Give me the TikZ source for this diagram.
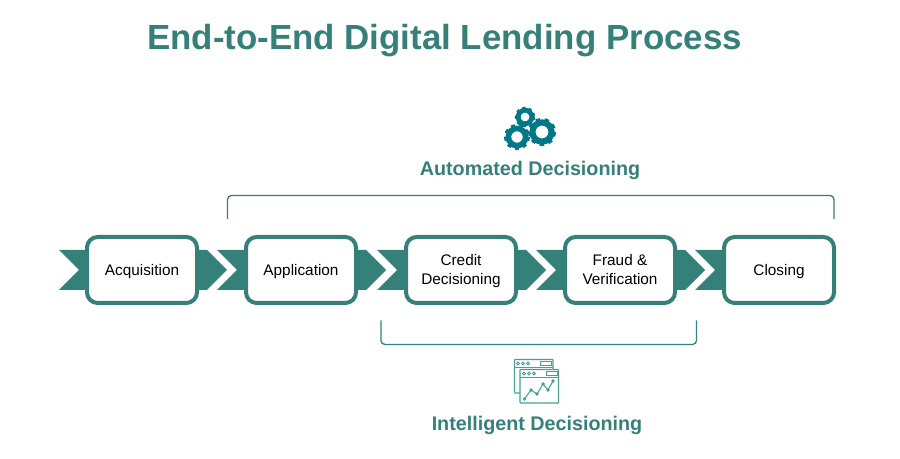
\documentclass[tikz,border=0pt]{standalone}
\usepackage{fontspec}
\setmainfont{Liberation Sans}
\definecolor{lendteal}{RGB}{53,128,120}
\definecolor{gearteal}{RGB}{0,120,136}
\definecolor{iconteal}{RGB}{70,160,150}
\tikzset{every picture/.style={line width=0.75pt}}
\tikzset{
	stepbox/.style={draw=lendteal, line width=3pt, fill=white, rounded corners=8pt, minimum width=82.5pt, minimum height=49.5pt, inner sep=0pt, align=center, font=\fontsize{11.5}{14.25}\selectfont},
	oneline/.style={text height=10.5pt, text depth=2.2pt},
	twoline/.style={text height=24pt, text depth=2.1pt},
	chevron/.style={fill=lendteal, draw=none},
	bracket/.style={draw=lendteal, line width=1pt, rounded corners=3pt},
	headline/.style={text=lendteal, font=\fontsize{14.8}{18}\selectfont\bfseries, inner sep=0pt},
	gear/.style={draw=gearteal},
	iconline/.style={draw=iconteal, line width=0.8pt},
	icondot/.style={draw=iconteal, line width=0.6pt}}

\begin{document}
\begin{tikzpicture}[x=0.75pt,y=0.75pt,yscale=-1]
	\useasboundingbox (0,0) rectangle (900,459);

	% Text Node
	\draw (444.5,41) node [text=lendteal, inner sep=0pt, font=\fontsize{26.15}{30}\selectfont\bfseries] (title) {End-to-End Digital Lending Process};
	% Text Node
	\draw (530,170) node [headline] (automated) {Automated Decisioning};
	% Text Node
	\draw (537,425) node [headline] (intelligent) {Intelligent Decisioning};

	% Text Node
	\draw (142,270) node [stepbox, oneline] (acquisition) {Acquisition};
	% Text Node
	\draw (301,270) node [stepbox, oneline] (application) {Application};
	% Text Node
	\draw (461,270) node [stepbox, twoline] (credit) {Credit\\Decisioning};
	% Text Node
	\draw (620,270) node [stepbox, twoline] (fraud) {Fraud \&\\Verification};
	% Text Node
	\draw (779,270) node [stepbox, oneline] (closing) {Closing};

	%Shape: Chevron tail
	\fill [chevron] (acquisition.west) ++(1,-20) -- ++(-27,0) -- ++(20,20) -- ++(-20,20) -- ++(27,0) -- cycle;
	\fill [chevron] (application.west) ++(1,-20) -- ++(-28,0) -- ++(20,20) -- ++(-20,20) -- ++(28,0) -- cycle;
	\fill [chevron] (credit.west) ++(1,-20) -- ++(-28,0) -- ++(20,20) -- ++(-20,20) -- ++(28,0) -- cycle;
	\fill [chevron] (fraud.west) ++(1,-20) -- ++(-28,0) -- ++(20,20) -- ++(-20,20) -- ++(28,0) -- cycle;
	\fill [chevron] (closing.west) ++(1,-20) -- ++(-28,0) -- ++(20,20) -- ++(-20,20) -- ++(28,0) -- cycle;
	%Shape: Chevron head
	\fill [chevron] (acquisition.east) ++(-1,-20) -- ++(9,0) -- ++(20,20) -- ++(-20,20) -- ++(-9,0) -- cycle;
	\fill [chevron] (application.east) ++(-1,-20) -- ++(9,0) -- ++(20,20) -- ++(-20,20) -- ++(-9,0) -- cycle;
	\fill [chevron] (credit.east) ++(-1,-20) -- ++(9,0) -- ++(20,20) -- ++(-20,20) -- ++(-9,0) -- cycle;
	\fill [chevron] (fraud.east) ++(-1,-20) -- ++(9,0) -- ++(20,20) -- ++(-20,20) -- ++(-9,0) -- cycle;

	%Straight Lines
	\coordinate (autoleft) at (227.5,219);
	\coordinate (autoright) at (834,219);
	\draw [bracket] (autoleft) -- (227.5,195.5) -- (834,195.5) -- (autoright);
	%Straight Lines
	\coordinate (intelleft) at (381,320.5);
	\coordinate (intelright) at (696.5,320.5);
	\draw [bracket] (intelleft) -- (381,344.5) -- (696.5,344.5) -- (intelright);

	%Shape: Gear
	\draw [gear, line width=3.6pt] (525,117) circle (6.8);
	\draw [gear, line width=2.2pt, dash pattern=on 2.4pt off 2.4pt] (525,117) circle (8.8);
	%Shape: Gear
	\draw [gear, line width=4.2pt] (517,137) circle (8.6);
	\draw [gear, line width=2.4pt, dash pattern=on 3pt off 3pt] (517,137) circle (11.5);
	%Shape: Gear
	\draw [gear, line width=4.6pt] (542,132) circle (9.6);
	\draw [gear, line width=2.4pt, dash pattern=on 3.3pt off 3.3pt] (542,132) circle (12.6);

	%Shape: Back window
	\draw [iconline, rounded corners=0.5pt] (520,393) -- (514.5,393) -- (514.5,359.5) -- (553,359.5) -- (553,369);
	\draw [iconline] (514.5,367.5) -- (553,367.5);
	\draw [icondot] (518,363.5) circle (1.5);
	\draw [icondot] (523,363.5) circle (1.5);
	\draw [icondot] (528,363.5) circle (1.5);
	\draw [icondot] (540,361.5) rectangle (551,365.5);
	%Shape: Front window
	\draw [iconline, rounded corners=0.5pt] (520,369.5) rectangle (558.5,403);
	\draw [iconline] (520,377.5) -- (558.5,377.5);
	\draw [icondot] (524,373.5) circle (1.5);
	\draw [icondot] (529,373.5) circle (1.5);
	\draw [icondot] (534,373.5) circle (1.5);
	\draw [icondot] (546,371.5) rectangle (557,375.5);
	%Straight Lines
	\draw [iconline] (524.5,399) -- (531,390) -- (537,394) -- (543,384) -- (548,390) -- (553,381);
	\fill [iconteal] (524.5,399) circle (1.8);
	\fill [iconteal] (531,390) circle (1.8);
	\fill [iconteal] (537,394) circle (1.8);
	\fill [iconteal] (543,384) circle (1.8);
	\fill [iconteal] (548,390) circle (1.8);
	\fill [iconteal] (553,381) circle (1.8);

\end{tikzpicture}
\end{document}
